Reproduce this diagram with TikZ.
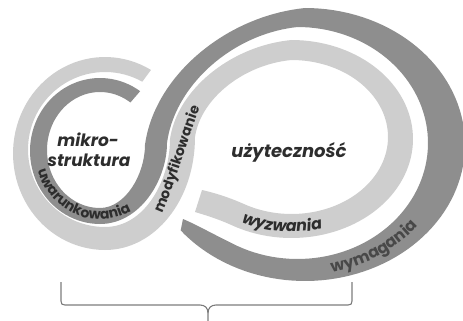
\documentclass[tikz,border=0pt]{standalone}
\usepackage{fontspec}
\setmainfont{Poppins}
\usetikzlibrary{decorations.text}
\definecolor{bandD}{HTML}{8E8E8E}
\definecolor{bandL}{HTML}{CECECE}
\definecolor{txt}{HTML}{2D2D2D}
\definecolor{txtD}{HTML}{484848}
\definecolor{brk}{HTML}{7C7C7C}
\newcommand{\fUL}[1]{(1-0.06*sin(2*((#1)-180)))}
\begin{document}
\begin{tikzpicture}[x=1pt,y=-1pt,
  bigtxt/.style={font=\bfseries\itshape\fontsize{17}{17}\selectfont, text=txt, inner sep=0pt, anchor=base},
  brline/.style={draw=brk, line width=1.1pt}]
\useasboundingbox (0,0) rectangle (463,321);

% dark band
\fill[bandD]
  plot[domain=-55:-270, samples=60, variable=\t] ({100+53*cos(\t)},{150+58*sin(\t)})
  .. controls (125,208) and (145,175) .. (145,144.5)
  -- plot[domain=180:270, samples=40, variable=\t] ({305+160*\fUL{\t}*cos(\t)},{144.5+136.5*\fUL{\t}*sin(\t)})
  -- plot[domain=270:501, samples=90, variable=\t] ({305+160*cos(\t)},{144.5+136.5*sin(\t)})
  -- (183,219) .. controls (195,224) and (215,235) .. (232.25,243.46)
  -- plot[domain=480:270, samples=80, variable=\t] ({297.5+130.5*cos(\t)},{143+116*sin(\t)})
  -- plot[domain=270:180, samples=40, variable=\t] ({297.5+130.5*\fUL{\t}*cos(\t)},{143+116*\fUL{\t}*sin(\t)})
  .. controls (167,180) and (140,224) .. (100,224)
  -- plot[domain=90:305, samples=60, variable=\t] ({100+70*cos(\t)},{151+73*sin(\t)})
  -- cycle;

% light band
\fill[bandL]
  plot[domain=-61:-270, samples=60, variable=\t] ({105+77*cos(\t)},{149.5+77.5*sin(\t)})
  .. controls (145,227) and (170,180) .. (170,139)
  -- plot[domain=180:270, samples=40, variable=\t] ({291.5+121.5*\fUL{\t}*cos(\t)},{139+99*\fUL{\t}*sin(\t)})
  -- plot[domain=270:480, samples=80, variable=\t] ({291.5+121.5*cos(\t)},{139+99*sin(\t)})
  .. controls (218,219) and (205,215) .. (195,212)
  -- (202,190)
  .. controls (215,193) and (228,197) .. (243.25,203.7)
  -- plot[domain=480:270, samples=80, variable=\t] ({291.5+96.5*cos(\t)},{137+77*sin(\t)})
  -- plot[domain=270:180, samples=40, variable=\t] ({291.5+96.5*\fUL{\t}*cos(\t)},{137+77*\fUL{\t}*sin(\t)})
  .. controls (195,200) and (155,250) .. (105,250)
  -- plot[domain=90:300, samples=60, variable=\t] ({105+92*cos(\t)},{153.5+96.5*sin(\t)})
  -- cycle;

% straight labels
\node[bigtxt] (mikro) at (88,146) {mikro-};
\node[bigtxt] (strukt) at (89,166) {struktura};
\node[bigtxt, font=\bfseries\itshape\fontsize{18}{18}\selectfont] (uzyt) at (289,157) {użyteczność};

% curved labels
\path[decorate, decoration={text along path, text align=center,
  text={|\fontsize{14}{14}\selectfont\bfseries\color{txt}|uwarunkowania}}]
  plot[domain=177:47, samples=60, variable=\t] ({100+65*cos(\t)},{150.5+69*sin(\t)});

\path[decorate, decoration={text along path, text align=center,
  text={|\fontsize{14}{14}\selectfont\bfseries\color{txt}|modyfikowanie}}]
  (156,226) .. controls (175,190) and (186,140) .. (205,95);

\path[decorate, decoration={text along path, text align=center,
  text={|\fontsize{16}{16}\selectfont\bfseries\itshape\color{txt}|wyzwania}}]
  plot[domain=140:51, samples=50, variable=\t] ({291.5+112*cos(\t)},{138+94*sin(\t)});

\path[decorate, decoration={text along path, text align=center,
  text={|\fontsize{16}{16}\selectfont\bfseries\color{txtD}|wymagania}}]
  plot[domain=102:12, samples=50, variable=\t] ({301+150*cos(\t)},{144+131*sin(\t)});

% bracket
\coordinate (bl) at (61,282);
\coordinate (br) at (352,282);
\coordinate (bt) at (208,321);
\draw[brline] (bl) -- (61,301) .. controls (61,304) and (62,305) .. (65,305) -- (200,305)
  .. controls (205,305) and (208,308) .. (208,313) -- (bt);
\draw[brline] (br) -- (352,301) .. controls (352,304) and (351,305) .. (348,305) -- (216,305)
  .. controls (211,305) and (208,308) .. (208,313);
\end{tikzpicture}
\end{document}
